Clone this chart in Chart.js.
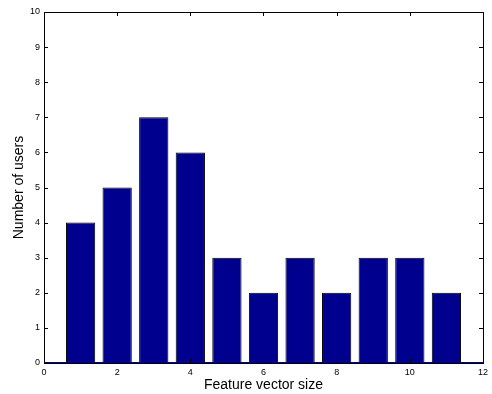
<!DOCTYPE html>
<html>
<head>
<meta charset="utf-8">
<script src="https://cdn.jsdelivr.net/npm/chart.js@4"></script>
<style>
    html, body { margin: 0; padding: 0; background: #fff; }
    #wrap { width: 492px; height: 394px; }
</style>
</head>
<body>
<div id="wrap"><canvas id="usersChart" width="492" height="394"></canvas></div>
<script>
// feature vector size -> number of users
const featureSizes = [1, 2, 3, 4, 5, 6, 7, 8, 9, 10, 11];
const userCounts = [4, 5, 7, 6, 3, 2, 3, 2, 3, 3, 2];
const xTicks = [0, 2, 4, 6, 8, 10, 12];
const yTicks = [0, 1, 2, 3, 4, 5, 6, 7, 8, 9, 10];

const xTitle = "Feature vector size";
const yTitle = "Number of users";

// matlab style box with inward ticks on all four sides + bar baseline
const boxTicks = {
    id: "boxTicks",
    afterDraw(chart) {
        const { ctx, chartArea: a, scales } = chart;
        const len = 4;
        ctx.save();
        const base = Math.round(scales.y.getPixelForValue(0)) - 0.5;
        ctx.strokeStyle = "#00008F";
        ctx.beginPath();
        ctx.moveTo(a.left, base); ctx.lineTo(a.right, base);
        ctx.stroke();

        ctx.strokeStyle = "#000";
        ctx.lineWidth = 1;
        ctx.beginPath();
        xTicks.forEach(v => {
            const px = Math.round(scales.x.getPixelForValue(v)) + 0.5;
            ctx.moveTo(px, a.bottom); ctx.lineTo(px, a.bottom - len);
            ctx.moveTo(px, a.top); ctx.lineTo(px, a.top + len);
        });
        yTicks.forEach(v => {
            const py = Math.round(scales.y.getPixelForValue(v)) + 0.5;
            ctx.moveTo(a.left, py); ctx.lineTo(a.left + len, py);
            ctx.moveTo(a.right, py); ctx.lineTo(a.right - len, py);
        });
        ctx.stroke();
        ctx.strokeRect(Math.round(a.left) + 0.5, Math.round(a.top) + 0.5,
            Math.round(a.right - a.left), Math.round(a.bottom - a.top));
        ctx.restore();
    }
};

new Chart(document.getElementById("usersChart"), {
    type: "bar",
    data: {
        datasets: [{
            data: featureSizes.map((x, i) => ({ x: x, y: userCounts[i] })),
            backgroundColor: "#00008F",
            borderColor: "#000",
            borderWidth: 1,
            categoryPercentage: 1,
            barPercentage: 0.8
        }]
    },
    options: {
        responsive: false,
        animation: false,
        layout: { padding: { top: 12, right: 1, left: 0, bottom: 0 } },
        plugins: { legend: { display: false }, tooltip: { enabled: false } },
        scales: {
            x: {
                type: "linear",
                offset: false,
                min: 0, max: 12,
                afterBuildTicks: s => { s.ticks = xTicks.map(v => ({ value: v })); },
                afterFit: s => { s.height = 31; },
                grid: { display: false, drawTicks: false, offset: false },
                border: { display: false },
                ticks: { padding: 4, color: "#000", font: { family: "Liberation Sans", size: 9 } },
                title: {
                    display: true, text: xTitle, color: "#000",
                    font: { family: "Liberation Sans", size: 14 },
                    padding: { top: 0, bottom: 0 }
                }
            },
            y: {
                min: 0, max: 10,
                afterBuildTicks: s => { s.ticks = yTicks.map(v => ({ value: v })); },
                afterFit: s => { s.width = 44; },
                grid: { display: false, drawTicks: false },
                border: { display: false },
                ticks: { padding: 4, color: "#000", font: { family: "Liberation Sans", size: 9 } },
                title: {
                    display: true, text: yTitle, color: "#000",
                    font: { family: "Liberation Sans", size: 14 },
                    padding: { top: 11, bottom: 0 }
                }
            }
        }
    },
    plugins: [boxTicks]
});
</script>
</body>
</html>
